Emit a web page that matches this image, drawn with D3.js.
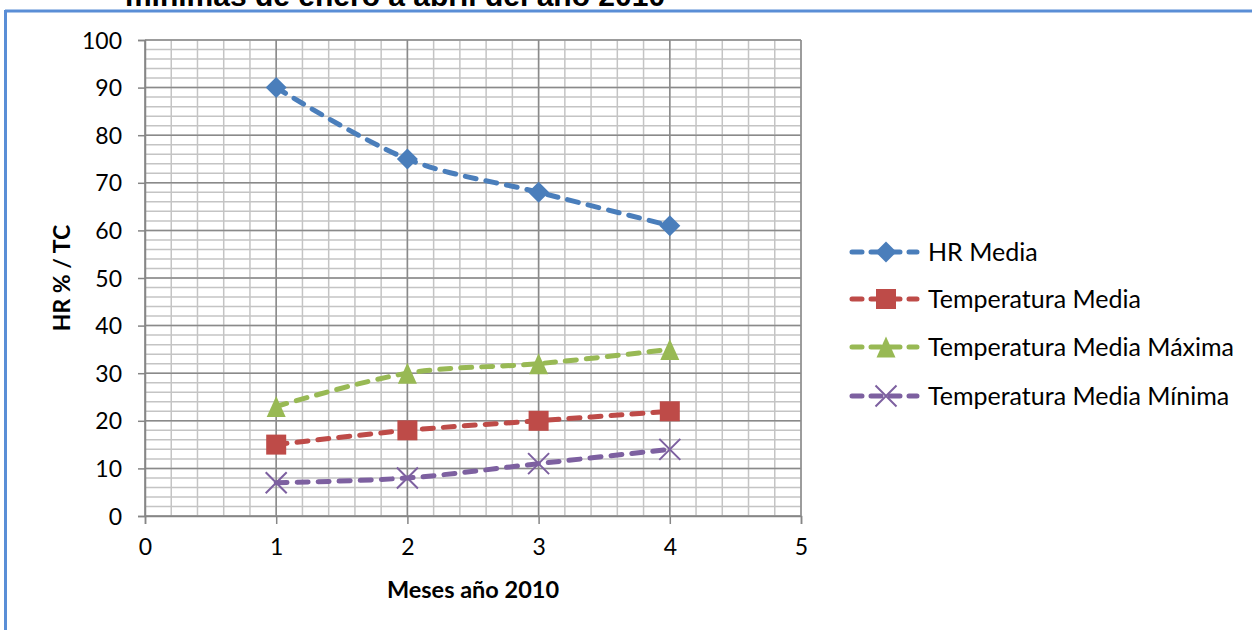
<!DOCTYPE html>
<html>
<head>
<meta charset="utf-8">
<script src="https://cdn.jsdelivr.net/npm/d3@7/dist/d3.min.js"></script>
<style>
  html, body { margin: 0; padding: 0; background: #fff; }
  svg { display: block; font-family: Lato, "Open Sans", sans-serif; }
</style>
</head>
<body>
<svg id="chart" width="1252" height="630"></svg>
<script>
// Months of 2010 (January to April)
const months = [1, 2, 3, 4];
const hrMedia = [90, 75, 68, 61];
const tempMedia = [15, 18, 20, 22];
const tempMediaMax = [23, 30, 32, 35];
const tempMediaMin = [7, 8, 11, 14];

const seriesNames = ["HR Media", "Temperatura Media", "Temperatura Media Máxima", "Temperatura Media Mínima"];
const seriesValues = [hrMedia, tempMedia, tempMediaMax, tempMediaMin];
const seriesColors = ["#4a7ebb", "#be4b48", "#98b954", "#7d60a0"];
const seriesMarkers = ["diamond", "square", "triangle", "cross"];

const xTicks = [0, 1, 2, 3, 4, 5];
const yTicks = [0, 10, 20, 30, 40, 50, 60, 70, 80, 90, 100];

const titleText = "mínimas de enero a abril del año 2010";
const xTitle = "Meses año 2010";
const yTitle = "HR % / TC";

const svg = d3.select("#chart");

// Plot area
const plot = { left: 145, right: 801, top: 40, bottom: 516 };
const x = d3.scaleLinear().domain([0, 5]).range([plot.left, plot.right]);
const y = d3.scaleLinear().domain([0, 100]).range([plot.bottom, plot.top]);

// Title (second line, running above the frame)
svg.append("text").attr("x", 395).attr("y", 6).attr("text-anchor", "middle")
  .attr("font-family", "'Liberation Sans', Arial, sans-serif")
  .attr("font-size", 30).attr("font-weight", 700).attr("fill", "#000").text(titleText);

// Chart frame (top and left edges visible)
svg.append("line").attr("x1", 5).attr("x2", 1252).attr("y1", 11).attr("y2", 11)
  .attr("stroke", "#5a8ed6").attr("stroke-width", 3);
svg.append("line").attr("x1", 5.5).attr("x2", 5.5).attr("y1", 10).attr("y2", 630)
  .attr("stroke", "#5a8ed6").attr("stroke-width", 3);

// Minor gridlines
const minorX = d3.range(0, 5.0001, 0.2);
const minorY = d3.range(0, 100.0001, 2);
const grid = svg.append("g");
grid.selectAll(".mx").data(minorX).join("line")
  .attr("x1", d => x(d)).attr("x2", d => x(d)).attr("y1", plot.top).attr("y2", plot.bottom)
  .attr("stroke", "#c4c4c4").attr("stroke-width", 1.5);
grid.selectAll(".my").data(minorY).join("line")
  .attr("x1", plot.left).attr("x2", plot.right).attr("y1", d => y(d)).attr("y2", d => y(d))
  .attr("stroke", "#c4c4c4").attr("stroke-width", 1.5);
// Major gridlines
grid.selectAll(".Mx").data(xTicks).join("line")
  .attr("x1", d => x(d)).attr("x2", d => x(d)).attr("y1", plot.top).attr("y2", plot.bottom)
  .attr("stroke", "#8a8a8a").attr("stroke-width", 1.5);
grid.selectAll(".My").data(yTicks).join("line")
  .attr("x1", plot.left).attr("x2", plot.right).attr("y1", d => y(d)).attr("y2", d => y(d))
  .attr("stroke", "#8a8a8a").attr("stroke-width", 1.5);

// Axes
const xAxis = svg.append("g").attr("transform", `translate(0,${plot.bottom})`)
  .call(d3.axisBottom(x).tickValues(xTicks).tickSize(8).tickPadding(18).tickFormat(d3.format("d")));
const yAxis = svg.append("g").attr("transform", `translate(${plot.left},0)`)
  .call(d3.axisLeft(y).tickValues(yTicks).tickSize(7).tickPadding(16).tickFormat(d3.format("d")));
[xAxis, yAxis].forEach(a => {
  a.select(".domain").attr("stroke", "#868686").attr("stroke-width", 1.5);
  a.selectAll(".tick line").attr("stroke", "#868686").attr("stroke-width", 1.5);
  a.selectAll(".tick text").attr("font-family", "Lato, sans-serif").attr("font-size", 23).attr("fill", "#000");
});
yAxis.selectAll(".tick text").attr("dy", "0.35em");
xAxis.selectAll(".tick text").attr("dy", "0.55em");

// Axis titles
svg.append("text").attr("x", x(2.5)).attr("y", 598).attr("text-anchor", "middle")
  .attr("font-size", 23.5).attr("font-weight", 700).text(xTitle);
svg.append("text").attr("transform", `translate(70,${y(50)}) rotate(-90)`)
  .attr("text-anchor", "middle").attr("font-size", 23).attr("font-weight", 700).text(yTitle);

// Marker drawing
function drawMarker(g, type, color) {
  const s = 10.5;
  if (type === "diamond") {
    g.append("path").attr("d", `M0,${-s}L${s},0L0,${s}L${-s},0Z`).attr("fill", color);
  } else if (type === "square") {
    g.append("rect").attr("x", -s + 0.5).attr("y", -s + 0.5).attr("width", 2 * s - 1).attr("height", 2 * s - 1).attr("fill", color);
  } else if (type === "triangle") {
    g.append("path").attr("d", `M0,${-s}L${s - 1},${s}L${-s + 1},${s}Z`).attr("fill", color);
  } else {
    g.append("path").attr("d", `M${-s},${-s}L${s},${s}M${s},${-s}L${-s},${s}`)
      .attr("stroke", color).attr("stroke-width", 2).attr("fill", "none");
  }
}

// Series
const line = d3.line().x(d => x(d[0])).y(d => y(d[1])).curve(d3.curveCatmullRom.alpha(0));
seriesValues.forEach((vals, i) => {
  const pts = months.map((m, j) => [m, vals[j]]);
  const g = svg.append("g");
  g.append("path").attr("d", line(pts)).attr("fill", "none")
    .attr("stroke", seriesColors[i]).attr("stroke-width", 5)
    .attr("stroke-dasharray", "11,10").attr("stroke-linecap", "round");
  pts.forEach(p => {
    drawMarker(g.append("g").attr("transform", `translate(${x(p[0])},${y(p[1])})`), seriesMarkers[i], seriesColors[i]);
  });
});

// Legend
const legendRows = [252, 299, 347, 396];
seriesNames.forEach((name, i) => {
  const g = svg.append("g").attr("transform", `translate(0,${legendRows[i]})`);
  g.append("line").attr("x1", 852).attr("x2", 917).attr("y1", 0).attr("y2", 0)
    .attr("stroke", seriesColors[i]).attr("stroke-width", 5)
    .attr("stroke-dasharray", "10,9").attr("stroke-linecap", "round");
  drawMarker(g.append("g").attr("transform", "translate(886,0)"), seriesMarkers[i], seriesColors[i]);
  g.append("text").attr("x", 928).attr("y", 0).attr("dy", "0.35em")
    .attr("font-size", 25).attr("fill", "#000").text(name);
});
</script>
</body>
</html>
